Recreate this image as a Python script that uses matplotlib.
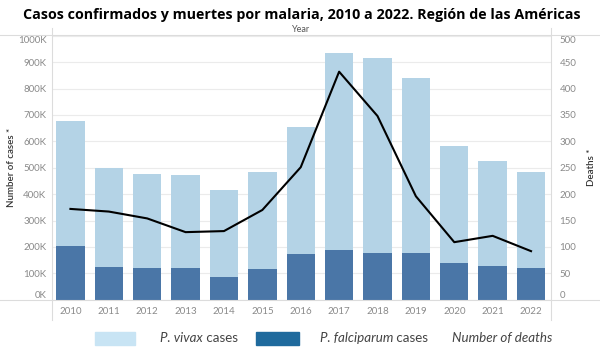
import numpy as np
import matplotlib
matplotlib.use("Agg")
import matplotlib.pyplot as plt
from matplotlib.patches import Rectangle
from matplotlib.lines import Line2D

plt.rcParams["font.family"] = ["Lato", "DejaVu Sans"]

years = [2010, 2011, 2012, 2013, 2014, 2015, 2016, 2017, 2018, 2019, 2020, 2021, 2022]
total_k = [678, 500, 476, 471, 416, 483, 655, 936, 915, 841, 584, 526, 484]
falciparum_k = [205, 123, 119, 121, 87, 117, 173, 187, 176, 176, 140, 128, 121]
deaths = [172, 167, 154, 128, 130, 170, 251, 432, 348, 196, 109, 121, 92]
cases_ticks = [0, 100, 200, 300, 400, 500, 600, 700, 800, 900, 1000]
death_ticks = [0, 50, 100, 150, 200, 250, 300, 350, 400, 450, 500]

LIGHT, DARK = "#b4d3e6", "#4a76a7"
GRID, TXT = "#ebebeb", "#8a8a8a"

fig = plt.figure(figsize=(6.0, 3.53), dpi=100)
ax = fig.add_axes([52 / 600, 1 - 299.7 / 353, 499 / 600, 263.9 / 353])
x = np.arange(len(years))
ax.bar(x, total_k, width=0.74, color=LIGHT, zorder=2)
ax.bar(x, falciparum_k, width=0.74, color=DARK, zorder=3)
ax.set_xlim(-0.48, 12.52)
ax.set_ylim(0, 1000)
ax.set_yticks(cases_ticks)
ax.set_yticklabels([f"{t}K" for t in cases_ticks])
ax.set_xticks(x)
ax.set_xticklabels([str(y) for y in years])
ax.grid(axis="y", color=GRID, lw=0.8, zorder=0)
ax.tick_params(length=0, labelsize=7, labelcolor=TXT, pad=4)
ax.tick_params(axis="x", pad=5)
for s in ("top", "right", "bottom", "left"):
    ax.spines[s].set_visible(False)
lbls = ax.get_yticklabels()
lbls[0].set_va("bottom")
lbls[-1].set_va("top")
fig.text(12 / 600, 1 - 167 / 353, "Number of cases *", rotation=90, ha="center", va="center",
         fontsize=7, color="#333333", fontweight="semibold")

ax2 = ax.twinx()
ax2.plot(x, deaths, color="black", lw=1.5, zorder=5)
ax2.set_ylim(0, 500)
ax2.set_yticks(death_ticks)
ax2.tick_params(length=0, labelsize=7, labelcolor=TXT, pad=6)
for s in ("top", "right", "bottom", "left"):
    ax2.spines[s].set_visible(False)
l2 = ax2.get_yticklabels()
l2[0].set_va("bottom")
l2[-1].set_va("top")
fig.text(591 / 600, 1 - 167 / 353, "Deaths *", rotation=90, ha="center", va="center",
         fontsize=7, color="#333333", fontweight="semibold")

# frame lines in the Tableau style
for (x0, y0, x1, y1) in [(0, 35, 600, 35), (0, 299.5, 600, 299.5),
                         (52, 28, 52, 320), (551, 28, 551, 320)]:
    fig.add_artist(Line2D([x0 / 600, x1 / 600], [1 - y0 / 353, 1 - y1 / 353],
                          color="#dcdcdc", lw=0.8, transform=fig.transFigure))

fig.text(302 / 600, 1 - 15 / 353, "Casos confirmados y muertes por malaria, 2010 a 2022. Región de las Américas",
         ha="center", va="center", fontsize=10.3, fontweight="bold", color="black",
         family=["Open Sans", "DejaVu Sans"])
fig.text(301 / 600, 1 - 30 / 353, "Year", ha="center", va="center", fontsize=6.5, color="#555555")

# legend
fig.add_artist(Rectangle((95 / 600, 1 - 345 / 353), 40 / 600, 13 / 353,
                         color="#c8e4f4", transform=fig.transFigure))
fig.add_artist(Rectangle((256 / 600, 1 - 345 / 353), 43 / 600, 13 / 353,
                         color="#1f6a9d", transform=fig.transFigure))
legend_items = [(160, "P. vivax", " cases"), (320, "P. falciparum", " cases")]
for lx, italic, rest in legend_items:
    t = fig.text(lx / 600, 1 - 338 / 353, italic, ha="left", va="center",
                 fontsize=9.6, color="#444444", style="italic")
    ax.annotate(rest, xy=(1, 0.5), xycoords=t, ha="left", va="center",
                fontsize=9.6, color="#444444", annotation_clip=False)
fig.text(452 / 600, 1 - 338 / 353, "Number of deaths", ha="left", va="center",
         fontsize=9.6, color="#444444", style="italic")

fig.savefig("out.png", dpi=100)
